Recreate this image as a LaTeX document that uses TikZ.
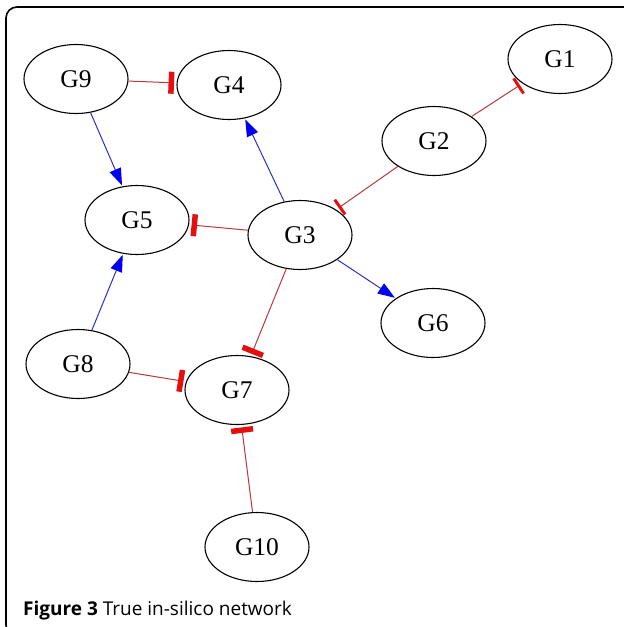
\documentclass[tikz,border=0pt]{standalone}
\usepackage{fontspec}
\setmainfont{Liberation Serif}
\newfontfamily\capfont{Open Sans}
\usetikzlibrary{shapes.geometric,arrows.meta}
\definecolor{inhline}{HTML}{B83A3A}
\definecolor{inhtip}{HTML}{E41010}
\definecolor{actline}{HTML}{3030C0}
\definecolor{acttip}{HTML}{0000F0}
\tikzset{
  gene/.style={ellipse, draw=black, line width=1.1pt, minimum width=104pt, minimum height=69pt, inner sep=0pt, font=\fontsize{25.5}{30}\selectfont},
  act/.style={draw=actline, line width=1pt, -{Triangle[length=17pt,width=12pt,color=acttip]}, shorten >=1pt},
  inh/.style={draw=inhline, line width=1pt, -{Bar[width=22pt,line width=5.5pt,color=inhtip]}, shorten >=2.5pt},
  inhthin/.style={draw=inhline, line width=1pt, -{Bar[width=18pt,line width=3pt,color=inhtip]}, shorten >=3pt}
}
\begin{document}
\begin{tikzpicture}[x=1pt,y=-1pt]
\useasboundingbox (0,0) rectangle (624,627);
\clip (0,0) rectangle (624,627);
\fill[white] (0,0) rectangle (624,627);
\draw[line width=1.6pt, rounded corners=11pt] (6,7) rectangle (660,636);
\node[gene] (G9) at (76,79) {G9};
\node[gene] (G4) at (229,85) {G4};
\node[gene] (G1) at (560,59) {G1};
\node[gene] (G2) at (434,141) {G2};
\node[gene] (G5) at (137,220) {G5};
\node[gene] (G3) at (300,235) {G3};
\node[gene] (G6) at (433,323) {G6};
\node[gene] (G8) at (78,364) {G8};
\node[gene] (G7) at (237,390) {G7};
\node[gene] (G10) at (257,547) {G10};
\draw[inh] (G9) -- (G4);
\draw[act] (G9) -- (G5);
\draw[act] (G3) -- (G4);
\draw[inhthin] (G2) -- (G1);
\draw[inhthin] (G2) -- (G3);
\draw[inh] (G3) -- (G5);
\draw[act] (G3) -- (G6);
\draw[inh] (G3) -- (G7);
\draw[act] (G8) -- (G5);
\draw[inh] (G8) -- (G7);
\draw[inh] (G10) -- (G7);
\node[anchor=base west, inner sep=0pt, font=\capfont\fontsize{19}{23}\selectfont] (cap) at (23,615) {\textbf{Figure 3} True in-silico network};
\end{tikzpicture}
\end{document}
